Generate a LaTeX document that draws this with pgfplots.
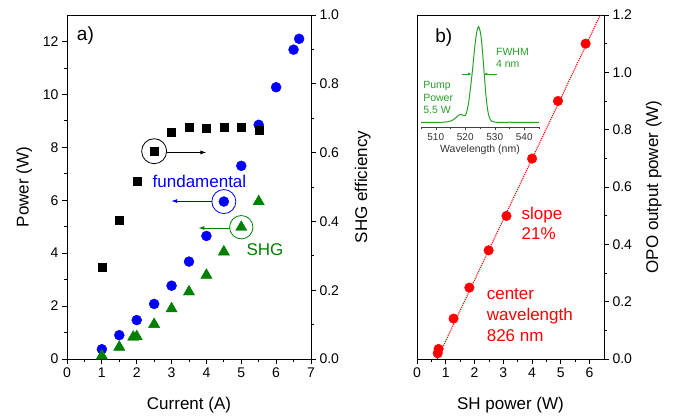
\documentclass[border=0pt]{standalone}
\usepackage{fontspec}
\setmainfont{Liberation Sans}
\usepackage{pgfplots}
\pgfplotsset{compat=1.18}
\usetikzlibrary{arrows.meta}
\definecolor{myblue}{RGB}{0,0,255}
\definecolor{mygreen}{RGB}{0,128,0}
\definecolor{myred}{RGB}{255,0,0}
\definecolor{insetgreen}{RGB}{40,160,40}
\pgfplotsset{
  /pgf/number format/assume math mode=true,
  every axis/.append style={
    tick label style={font=\fontsize{14}{16}\selectfont},
    label style={font=\fontsize{17}{20}\selectfont},
    major tick length=5pt, minor tick length=3pt,
    tick align=outside,
    axis line style={line width=0.9pt},
    every tick/.style={black, line width=0.8pt},
  },
  onedec/.style={/pgf/number format/.cd, fixed, fixed zerofill, precision=1},
}
\begin{document}
\begin{tikzpicture}
\path (0,0) rectangle (673pt,416pt);
% ---------- left panel, left axis ----------
\begin{axis}[at={(67pt,57pt)}, anchor=south west, scale only axis,
  width=244pt, height=344pt, xmin=0, xmax=7, ymin=0, ymax=13,
  xtick={0,...,7}, ytick={0,2,...,12}, minor x tick num=1, minor y tick num=1,
  xtick pos=bottom, ytick pos=left,
  xlabel={Current (A)}, ylabel={Power (W)},
  xlabel style={yshift=-13pt}, ylabel style={yshift=4pt}, clip=false]
\addplot[only marks, mark=*, mark size=5pt, color=myblue] coordinates {
 (1,0.37) (1.5,0.9) (2,1.47) (2.5,2.08) (3,2.77) (3.5,3.68) (4,4.65)
 (4.5,5.95) (5,7.3) (5.5,8.85) (6,10.27) (6.5,11.69) (6.66,12.1)};
\addplot[only marks, mark=triangle*, mark size=6.5pt, color=mygreen] coordinates {
 (1,0.12) (1.5,0.45) (1.9,0.83) (2,0.85) (2.5,1.31) (3,1.9) (3.5,2.54)
 (4,3.17) (4.5,4.05) (5,4.98) (5.5,5.95)};
\addplot[only marks, mark=o, mark size=12pt, color=myblue, mark options={line width=0.8pt}] coordinates {(4.5,5.95)};
\addplot[only marks, mark=o, mark size=11.7pt, color=mygreen, mark options={line width=0.8pt}] coordinates {(5,4.98)};
\draw[myblue, line width=0.8pt, -{Latex[length=6pt,width=4pt]}] (axis cs:4.156,5.97) -- (axis cs:2.99,5.97);
\draw[mygreen, line width=0.8pt, -{Latex[length=6pt,width=4pt]}] (axis cs:4.665,4.95) -- (axis cs:3.77,4.95);
\node[myblue, font=\fontsize{17}{20}\selectfont] at (axis cs:3.8,6.7) {fundamental};
\node[mygreen, font=\fontsize{17}{20}\selectfont] at (axis cs:5.68,4.14) {SHG};
\node[anchor=west, inner sep=0pt, font=\fontsize{19}{22}\selectfont] at (axis cs:0.28,12.23) {a)};
\end{axis}
% ---------- left panel, right axis ----------
\begin{axis}[at={(67pt,57pt)}, anchor=south west, scale only axis,
  width=244pt, height=344pt, xmin=0, xmax=7, ymin=0, ymax=1,
  axis x line=none, axis y line*=right,
  ytick={0,0.2,...,1.0}, minor y tick num=1,
  yticklabel style={onedec},
  ylabel={SHG efficiency}, ylabel style={yshift=-9pt}, clip=false]
\addplot[only marks, mark=square*, mark size=4pt, color=black] coordinates {
 (1,0.268) (1.5,0.404) (2,0.518) (2.5,0.604) (3,0.658) (3.5,0.673)
 (4,0.670) (4.5,0.675) (5,0.675) (5.5,0.665)};
\addplot[only marks, mark=o, mark size=12.5pt, color=black, mark options={line width=0.8pt}] coordinates {(2.5,0.604)};
\draw[black, line width=0.8pt, -{Latex[length=6pt,width=4pt]}] (axis cs:2.86,0.6005) -- (axis cs:4.0,0.6005);
\end{axis}
% ---------- right panel ----------
\begin{axis}[at={(417pt,57pt)}, anchor=south west, scale only axis,
  width=187pt, height=344pt, xmin=0, xmax=6.5, ymin=0, ymax=1.2,
  xtick={0,...,6}, ytick={0,0.2,...,1.2}, minor x tick num=1, minor y tick num=1,
  xtick pos=bottom, ytick pos=right, yticklabel pos=right,
  yticklabel style={onedec},
  xlabel={SH power (W)}, ylabel={OPO output power (W)},
  xlabel style={yshift=-13pt}, ylabel style={yshift=-7pt}, clip=false]
\addplot[myred, densely dotted, line width=1.1pt] coordinates {(0.7,0) (6.37,1.2)};
\addplot[only marks, mark=*, mark size=4.8pt, color=myred] coordinates {
 (0.72,0.02) (0.75,0.035) (1.27,0.141) (1.82,0.249) (2.49,0.379) (3.11,0.499)
 (4.0,0.699) (4.9,0.9) (5.86,1.10)};
\node[myred, anchor=west, inner sep=0pt, align=left, font=\fontsize{17}{20}\selectfont] at (axis cs:3.63,0.473) {slope\\21\%};
\node[myred, anchor=west, inner sep=0pt, align=left, font=\fontsize{17}{21}\selectfont] at (axis cs:2.42,0.152) {center\\wavelength\\826 nm};
\node[anchor=west, inner sep=0pt, font=\fontsize{19}{22}\selectfont] at (axis cs:0.63,1.122) {b)};
\end{axis}
% ---------- inset ----------
\begin{axis}[at={(421pt,288.7pt)}, anchor=south west, scale only axis,
  width=118pt, height=100.6pt, xmin=505, xmax=545, ymin=-0.05, ymax=1,
  axis x line*=bottom, axis y line=none,
  xtick={510,520,530,540}, minor xtick={505,515,525,535,545},
  tick align=outside, major tick length=3pt, minor tick length=2pt,
  axis line style={line width=0.6pt, black!75},
  every tick/.style={black!75, line width=0.5pt},
  tick label style={font=\fontsize{10}{12}\selectfont, black!80},
  label style={font=\fontsize{10.5}{12}\selectfont, black!80},
  xlabel={Wavelength (nm)}, xlabel style={yshift=3pt},
  clip=false]
\addplot[insetgreen, line width=1pt, smooth] coordinates {
 (505,0.0) (508,0.002) (511,0.0) (513,0.004) (514,0.008) (515,0.015) (516,0.03)
 (517,0.055) (518,0.08) (518.5,0.085) (519,0.08) (519.5,0.072) (520,0.075)
 (520.5,0.11) (521,0.18) (521.5,0.29) (522,0.42) (522.5,0.56) (523,0.72)
 (523.5,0.86) (524,0.96) (524.5,1.0) (525,0.96) (525.5,0.86) (526,0.68)
 (526.5,0.48) (527,0.29) (527.5,0.15) (528,0.07) (528.5,0.03) (529,0.012)
 (530,0.004) (532,0.0) (535,0.003) (538,0.0) (541,0.002) (545,0.0)};
\draw[insetgreen, line width=0.7pt, -{Latex[length=3.5pt,width=3pt]}] (axis cs:518.8,0.506) -- (axis cs:522.2,0.506);
\draw[insetgreen, line width=0.7pt, -{Latex[length=3.5pt,width=3pt]}] (axis cs:530.6,0.506) -- (axis cs:526.3,0.506);
\node[insetgreen, anchor=west, inner sep=0pt, align=left, font=\fontsize{10.5}{12}\selectfont] at (axis cs:530.4,0.671) {FWHM\\4 nm};
\node[insetgreen, anchor=west, inner sep=0pt, align=left, font=\fontsize{10.5}{12.5}\selectfont] at (axis cs:505.7,0.259) {Pump\\Power\\5.5 W};
\end{axis}
\end{tikzpicture}
\end{document}
